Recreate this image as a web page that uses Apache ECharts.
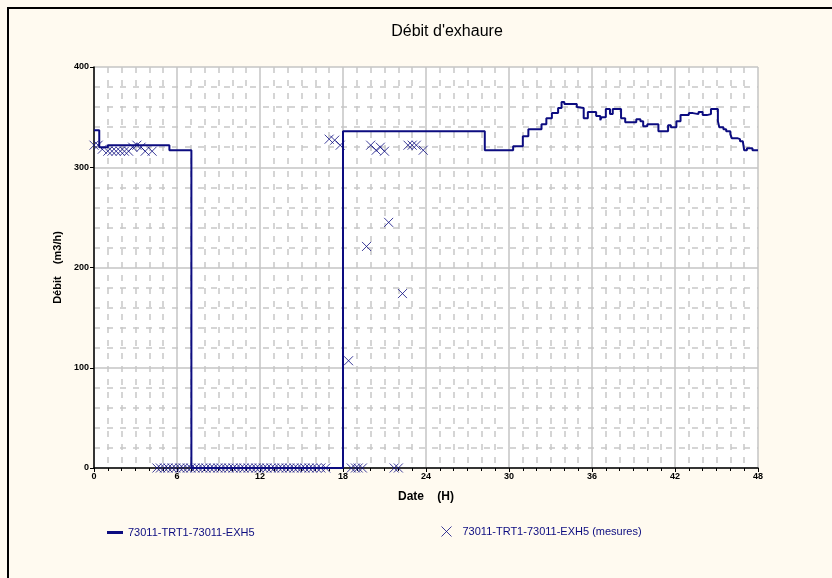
<!DOCTYPE html>
<html>
<head>
<meta charset="utf-8">
<script src="https://cdn.jsdelivr.net/npm/echarts@6/dist/echarts.min.js"></script>
<style>
  html, body { margin: 0; padding: 0; background: #fffaf0; overflow: hidden; }
  #frame { position: absolute; left: 7px; top: 7px; width: 900px; height: 700px;
           border-left: 2px solid #000; border-top: 2px solid #000; box-sizing: border-box; }
  #chart { position: absolute; left: 0; top: 0; width: 832px; height: 578px; }
</style>
</head>
<body>
<div id="frame"></div>
<div id="chart"></div>
<script>
// step curve (hours, m3/h)
var lineHours = [0, 0.38, 1.0, 5.45, 7.04, 18.0, 28.25, 30.3, 31.0, 31.4, 32.35, 32.7, 33.1, 33.55, 33.8, 34.0,
  34.9, 35.0, 35.4, 35.7, 36.3, 36.6, 36.7, 37.0, 37.3, 37.5, 38.1, 38.4, 39.2, 39.5, 39.7, 40.0, 40.8, 41.5,
  41.7, 42.1, 42.4, 43.0, 43.3, 43.7, 44.0, 44.3, 44.6, 45.1, 45.2, 45.5, 45.7, 46.0, 46.1, 46.5, 46.7, 46.9,
  47.0, 47.2, 47.6, 48];
var lineValues = [337, 320, 322, 317, 0, 336, 317, 321, 331, 338, 343, 349, 354, 359, 365, 363,
  360, 359, 349, 355, 351, 347, 350, 358, 353, 358, 349, 345, 348, 346, 341, 343, 336, 342,
  340, 346, 352, 354, 353, 355, 352, 353, 358, 346, 340, 338, 336, 333, 329, 328, 326, 325,
  317, 319, 317, 317];

// measured points
var measHours = [0.0, 0.3, 0.6, 1.0, 1.3, 1.6, 1.9, 2.2, 2.5, 2.8, 3.1, 3.4, 3.7, 4.2,
  4.55, 4.8, 5.1, 5.35, 5.65, 5.9, 6.2, 6.45, 6.75, 7.0, 7.3, 7.55, 7.85, 8.1, 8.4, 8.65, 8.95, 9.2,
  9.5, 9.75, 10.05, 10.3, 10.6, 10.85, 11.15, 11.4, 11.7, 11.95, 12.25, 12.5, 12.8, 13.05, 13.35, 13.6,
  13.9, 14.15, 14.45, 14.7, 15.0, 15.25, 15.55, 15.8, 16.1, 16.4, 16.75,
  17.0, 17.4, 17.8, 18.4, 18.6, 18.9, 19.1, 19.4, 19.7, 20.0, 20.4, 20.7, 21.0, 21.3, 21.7, 22.0,
  22.3, 22.7, 23.0, 23.3, 23.8];
var measValues = [322, 322, 318, 316, 316, 316, 316, 316, 316, 320, 322, 320, 316, 316,
  0, 0, 0, 0, 0, 0, 0, 0, 0, 0, 0, 0, 0, 0, 0, 0, 0, 0,
  0, 0, 0, 0, 0, 0, 0, 0, 0, 0, 0, 0, 0, 0, 0, 0,
  0, 0, 0, 0, 0, 0, 0, 0, 0, 0, 0,
  328, 327, 322, 107, 0, 0, 0, 0, 221, 322, 317, 320, 316, 245, 0, 0,
  174, 322, 322, 322, 317];

var xTicks = [0, 6, 12, 18, 24, 30, 36, 42, 48];
var yTicks = [0, 100, 200, 300, 400];

var navy = '#0c0c80';
var crossPath = 'path://M0,0L10,10M10,0L0,10';
var font = 'Liberation Sans, Arial, sans-serif';

var lineData = lineHours.map(function (h, i) { return [h, lineValues[i]]; });
var measData = measHours.map(function (h, i) { return [h, measValues[i]]; });

var chart = echarts.init(document.getElementById('chart'));
chart.setOption({
  backgroundColor: 'transparent',
  animation: false,
  textStyle: { fontFamily: font },
  title: {
    text: "Débit d'exhaure",
    left: 442, top: 19, textAlign: 'center',
    textStyle: { fontSize: 16, fontWeight: 'normal', color: '#000', fontFamily: font }
  },
  grid: { left: 94, right: 74, top: 67, bottom: 110, show: true, backgroundColor: '#fff', borderWidth: 0 },
  legend: [
    {
      data: [{ name: '73011-TRT1-73011-EXH5', icon: 'rect' }],
      left: 102, top: 522, itemWidth: 16, itemHeight: 3,
      textStyle: { color: navy, fontSize: 11, fontFamily: font },
      itemStyle: { color: navy }
    },
    {
      data: [{ name: '73011-TRT1-73011-EXH5 (mesures)', icon: crossPath }],
      left: 436, top: 521, itemWidth: 10, itemHeight: 10, itemGap: 0,
      textStyle: { color: navy, fontSize: 11, fontFamily: font, padding: [0, 0, 0, 6] },
      itemStyle: { color: 'transparent', borderColor: navy, borderWidth: 1 }
    }
  ],
  xAxis: {
    type: 'value', min: xTicks[0], max: xTicks[xTicks.length - 1], interval: 6,
    name: 'Date    (H)', nameLocation: 'middle', nameGap: 23,
    nameTextStyle: { fontWeight: 'bold', fontSize: 12, color: '#000' },
    axisLine: { show: true, onZero: false, lineStyle: { color: '#000', width: 1.5 } },
    axisTick: { show: true, length: 4, lineStyle: { color: '#000' } },
    minorTick: { show: true, splitNumber: 6, length: 3, lineStyle: { color: '#000' } },
    axisLabel: { fontSize: 9, fontWeight: 'bold', color: '#000', margin: 4 },
    splitLine: { show: true, lineStyle: { color: '#c4c4c4', width: 1.5 } },
    minorSplitLine: { show: true, lineStyle: { color: '#c8c8c8', type: [6, 7], width: 1.5 } }
  },
  yAxis: {
    type: 'value', min: yTicks[0], max: yTicks[yTicks.length - 1], interval: 100,
    name: 'Débit    (m3/h)', nameLocation: 'middle', nameGap: 30, nameRotate: 90,
    nameTextStyle: { fontWeight: 'bold', fontSize: 11, color: '#000' },
    axisLine: { show: true, onZero: false, lineStyle: { color: '#000', width: 1.5 } },
    axisTick: { show: true, length: 4, lineStyle: { color: '#000' } },
    minorTick: { show: false },
    axisLabel: { fontSize: 9, fontWeight: 'bold', color: '#000', margin: 5 },
    splitLine: { show: true, lineStyle: { color: '#c4c4c4', width: 1.5 } },
    minorSplitLine: { show: true, lineStyle: { color: '#c8c8c8', type: [6, 7], width: 1.5 } }
  },
  series: [
    {
      name: '73011-TRT1-73011-EXH5',
      type: 'line', step: 'end', data: lineData,
      showSymbol: false, symbol: 'none',
      lineStyle: { color: navy, width: 2 },
      itemStyle: { color: navy },
      z: 3
    },
    {
      name: '73011-TRT1-73011-EXH5 (mesures)',
      type: 'scatter', data: measData, clip: false,
      symbol: crossPath, symbolSize: 9,
      itemStyle: { color: 'transparent', borderColor: navy, borderWidth: 1 },
      z: 4
    }
  ]
});
</script>
</body>
</html>
